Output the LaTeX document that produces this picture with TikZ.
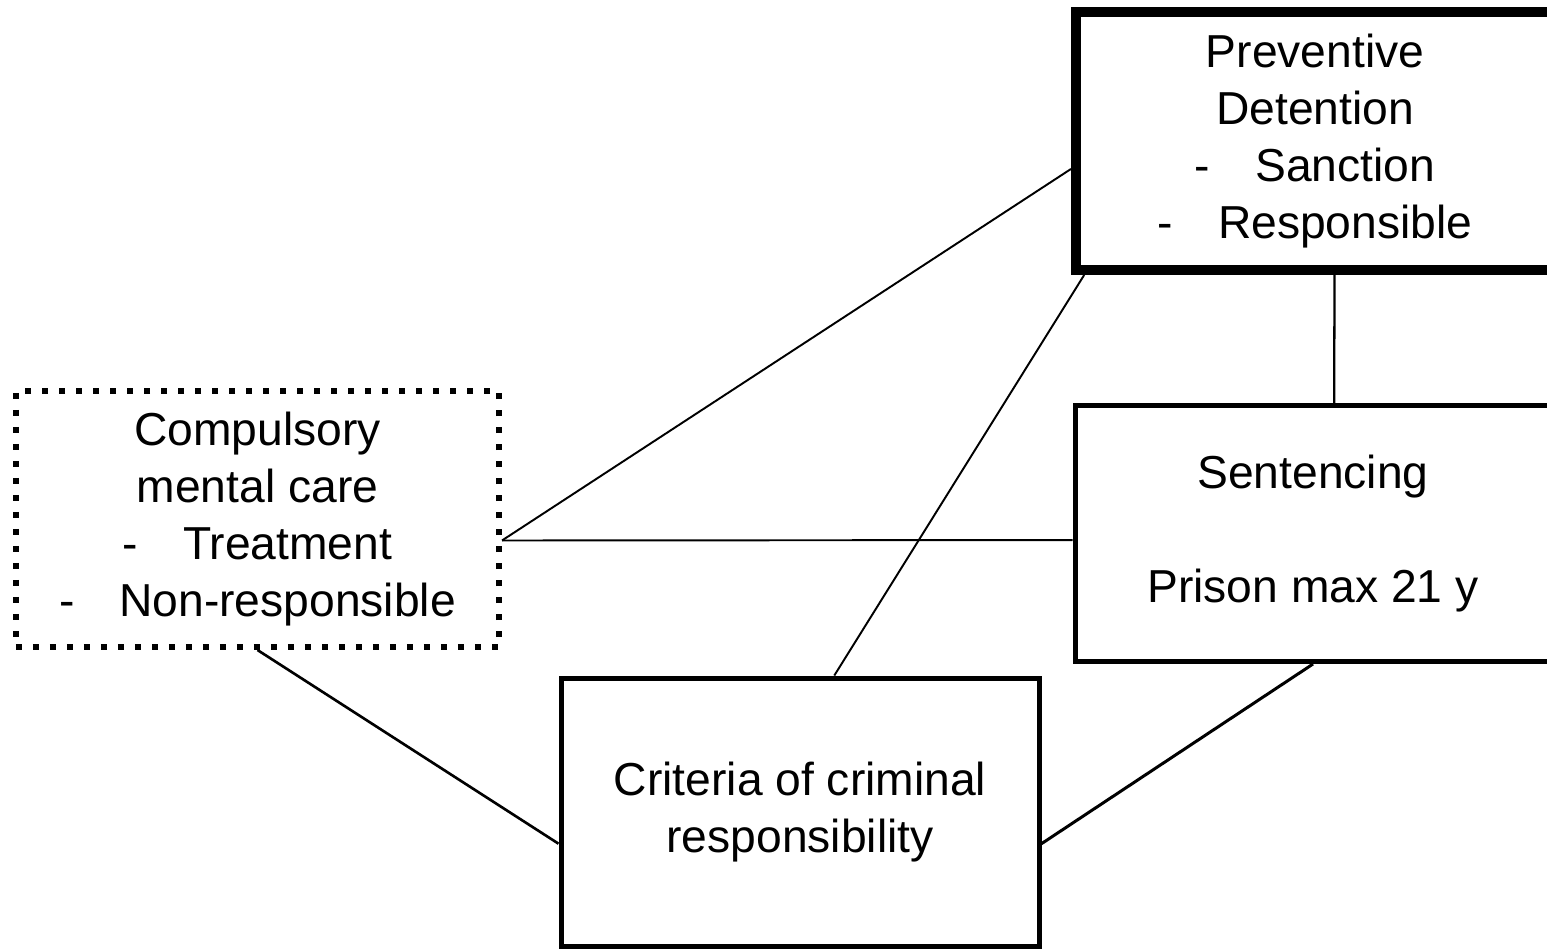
\documentclass[tikz,border=0pt]{standalone}
\usepackage{fontspec}
\setmainfont{Liberation Sans}
\usetikzlibrary{calc}

\begin{document}
\begin{tikzpicture}[box/.style={rectangle, draw=black, align=center, inner sep=0pt, font=\fontsize{26.3}{32.4}\selectfont},
    link/.style={line width=1.1pt}]
    \useasboundingbox (0,0) rectangle (30.94,-18.98);

    \node[box, line width=0.2cm, minimum width=9.56cm, minimum height=5.17cm] at (26.30,-2.815) (detention) {Preventive\\Detention\\-\hspace{0.9cm}Sanction\\-\hspace{0.9cm}Responsible};
    \node[box, line width=0.12cm, dash pattern=on 0.12cm off 0.22cm, minimum width=9.66cm, minimum height=5.12cm] at (5.15,-10.38) (care) {Compulsory\\mental care\\-\hspace{0.9cm}Treatment\\-\hspace{0.9cm}Non-responsible};
    \node[box, line width=0.1cm, minimum width=9.52cm, minimum height=5.12cm] at (26.26,-10.67) (sentencing) {Sentencing\\[32.4pt]Prison max 21 y};
    \node[box, line width=0.1cm, minimum width=9.56cm, minimum height=5.36cm] at (16.0,-16.24) (criteria) {Criteria of criminal\\responsibility};

    \draw[link] ($(care.north east)!0.582!(care.south east)$) -- ($(detention.north west)!0.605!(detention.south west)$);
    \draw[link] ($(care.north east)!0.582!(care.south east)$) -- ($(sentencing.north west)!0.525!(sentencing.south west)$);
    \draw[link, line width=1.5pt] (care.south) -- ($(criteria.north west)!0.616!(criteria.south west)$);
    \draw[link] ($(criteria.north west)!0.571!(criteria.north east)$) -- ($(detention.south west)!0.027!(detention.south east)$);
    \draw[link, line width=1.3pt] ($(detention.south west)!0.54!(detention.south east)$) -- ($(sentencing.north west)!0.544!(sentencing.north east)$);
    \draw[link, line width=1.7pt] ($(criteria.north east)!0.616!(criteria.south east)$) -- (sentencing.south);

\end{tikzpicture}
\end{document}
